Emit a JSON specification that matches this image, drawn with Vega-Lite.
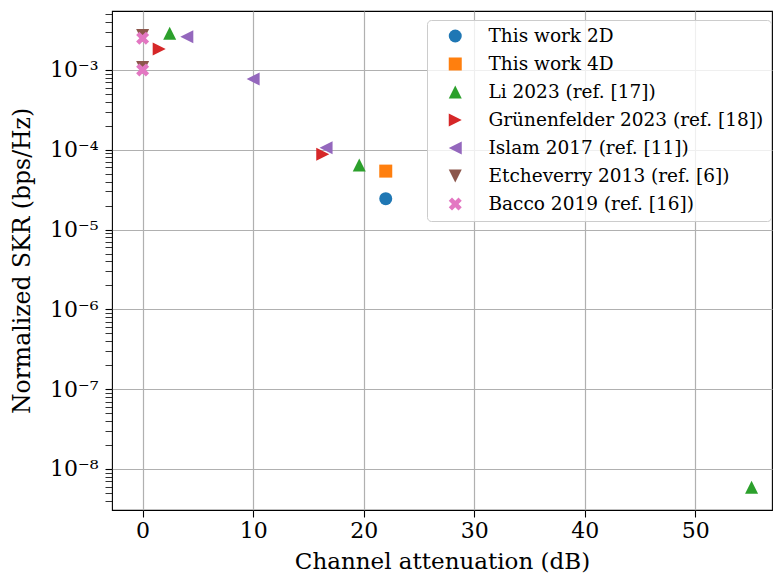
{
  "$schema": "https://vega.github.io/schema/vega-lite/v6.json",
  "width": 660,
  "height": 499,
  "autosize": {"type": "none"},
  "padding": {"left": 112, "top": 11, "right": 1, "bottom": 66},
  "background": "white",
  "config": {
    "view": {"stroke": "black", "strokeWidth": 1.1},
    "font": "DejaVu Serif"
  },
  "data": {
    "values": [
      {"series": "This work 2D", "atten": 22.0, "skr": 2.44e-5},
      {"series": "This work 4D", "atten": 22.0, "skr": 5.4e-5},
      {"series": "Li 2023 (ref. [17])", "atten": 2.45, "skr": 2.88e-3},
      {"series": "Li 2023 (ref. [17])", "atten": 19.6, "skr": 6.45e-5},
      {"series": "Li 2023 (ref. [17])", "atten": 55.1, "skr": 5.9e-9},
      {"series": "Grünenfelder 2023 (ref. [18])", "atten": 1.5, "skr": 1.83e-3},
      {"series": "Grünenfelder 2023 (ref. [18])", "atten": 16.3, "skr": 8.8e-5},
      {"series": "Islam 2017 (ref. [11])", "atten": 4.0, "skr": 2.61e-3},
      {"series": "Islam 2017 (ref. [11])", "atten": 10.0, "skr": 7.7e-4},
      {"series": "Islam 2017 (ref. [11])", "atten": 16.6, "skr": 1.06e-4},
      {"series": "Etcheverry 2013 (ref. [6])", "atten": 0.0, "skr": 2.7e-3},
      {"series": "Etcheverry 2013 (ref. [6])", "atten": 0.0, "skr": 1.07e-3},
      {"series": "Bacco 2019 (ref. [16])", "atten": 0.0, "skr": 2.49e-3},
      {"series": "Bacco 2019 (ref. [16])", "atten": 0.0, "skr": 1.0e-3}
    ]
  },
  "mark": {"type": "point", "filled": true, "size": 169, "opacity": 1},
  "encoding": {
    "x": {
      "field": "atten",
      "type": "quantitative",
      "scale": {"domain": [-2.77, 56.95], "nice": false, "zero": false},
      "axis": {
        "title": "Channel attenuation (dB)",
        "values": [0, 10, 20, 30, 40, 50],
        "tickCount": 100,
        "format": "d",
        "grid": true,
        "gridColor": "#b0b0b0",
        "gridWidth": 1.2,
        "domain": false,
        "tickColor": "black",
        "tickSize": 7,
        "tickWidth": 1.1,
        "labelFontSize": 22,
        "labelColor": "black",
        "labelPadding": 3,
        "titleFontSize": 23,
        "titleFontWeight": "normal",
        "titleColor": "black",
        "titlePadding": 9
      }
    },
    "y": {
      "field": "skr",
      "type": "quantitative",
      "scale": {"type": "log", "domain": [3.06e-9, 5.48e-3], "nice": false},
      "axis": {
        "title": "Normalized SKR (bps/Hz)",
        "tickCount": 200,
        "values": [4e-9, 5e-9, 6e-9, 7e-9, 8e-9, 9e-9, 1e-8, 2e-8, 3e-8, 4e-8, 5e-8, 6e-8, 7e-8, 8e-8, 9e-8, 1e-7, 2e-7, 3e-7, 4e-7, 5e-7, 6e-7, 7e-7, 8e-7, 9e-7, 1e-6, 2e-6, 3e-6, 4e-6, 5e-6, 6e-6, 7e-6, 8e-6, 9e-6, 1e-5, 2e-5, 3e-5, 4e-5, 5e-5, 6e-5, 7e-5, 8e-5, 9e-5, 1e-4, 2e-4, 3e-4, 4e-4, 5e-4, 6e-4, 7e-4, 8e-4, 9e-4, 1e-3, 2e-3, 3e-3, 4e-3, 5e-3],
        "labelExpr": "abs(log(datum.value)/LN10 - round(log(datum.value)/LN10)) < 1e-6 ? '10⁻' + ['⁰','¹','²','³','⁴','⁵','⁶','⁷','⁸','⁹'][-round(log(datum.value)/LN10)] : ''",
        "grid": true,
        "gridColor": "#b0b0b0",
        "gridWidth": 1.2,
        "gridOpacity": {"condition": {"test": "abs(log(datum.value)/LN10 - round(log(datum.value)/LN10)) < 1e-6", "value": 1}, "value": 0},
        "domain": false,
        "tickColor": "black",
        "tickWidth": {"condition": {"test": "abs(log(datum.value)/LN10 - round(log(datum.value)/LN10)) < 1e-6", "value": 1.1}, "value": 0.8},
        "tickSize": 7,
        "labelFontSize": 22,
        "labelColor": "black",
        "labelPadding": 7,
        "labelOverlap": false,
        "labelBound": false,
        "labelFlush": false,
        "titleFontSize": 23.5,
        "titleFontWeight": "normal",
        "titleColor": "black",
        "titlePadding": 15
      }
    },
    "color": {
      "field": "series",
      "type": "nominal",
      "scale": {
        "domain": ["This work 2D", "This work 4D", "Li 2023 (ref. [17])", "Grünenfelder 2023 (ref. [18])", "Islam 2017 (ref. [11])", "Etcheverry 2013 (ref. [6])", "Bacco 2019 (ref. [16])"],
        "range": ["#1f77b4", "#ff7f0e", "#2ca02c", "#d62728", "#9467bd", "#8c564b", "#e377c2"]
      },
      "legend": {
        "orient": "none",
        "legendX": 315,
        "legendY": 9,
        "title": null,
        "labelFontSize": 18.5,
        "labelFont": "DejaVu Serif",
        "labelColor": "black",
        "labelLimit": 400,
        "symbolSize": 169,
        "symbolOpacity": 1,
        "padding": 7,
        "rowPadding": 9,
        "clipHeight": 18,
        "symbolOffset": 12,
        "labelOffset": 24,
        "strokeColor": "#cccccc",
        "fillColor": "rgba(255,255,255,0.8)",
        "cornerRadius": 4
      }
    },
    "shape": {
      "field": "series",
      "type": "nominal",
      "scale": {
        "domain": ["This work 2D", "This work 4D", "Li 2023 (ref. [17])", "Grünenfelder 2023 (ref. [18])", "Islam 2017 (ref. [11])", "Etcheverry 2013 (ref. [6])", "Bacco 2019 (ref. [16])"],
        "range": ["circle", "square", "M0,-1L1,1L-1,1Z", "M1,0L-1,-1L-1,1Z", "M-1,0L1,-1L1,1Z", "M0,1L1,-1L-1,-1Z", "M-0.5,-1L0,-0.5L0.5,-1L1,-0.5L0.5,0L1,0.5L0.5,1L0,0.5L-0.5,1L-1,0.5L-0.5,0L-1,-0.5Z"]
      }
    }
  }
}
